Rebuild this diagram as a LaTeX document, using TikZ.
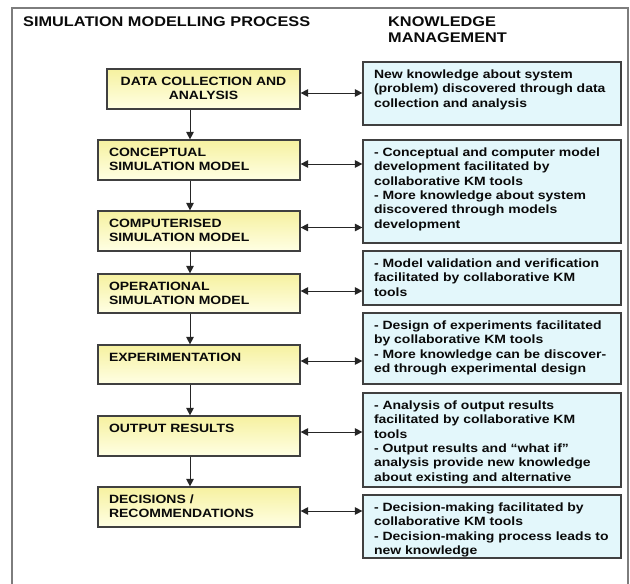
\documentclass[tikz,border=0pt]{standalone}
\usepackage{fontspec}
\setmainfont{Liberation Sans}[FakeStretch=1.165]
\usetikzlibrary{arrows.meta}
\definecolor{ytop}{RGB}{246,241,160}
\definecolor{ybot}{RGB}{255,255,228}
\definecolor{kfill}{RGB}{227,247,251}
\definecolor{bord}{RGB}{64,64,64}
\definecolor{framec}{RGB}{125,125,125}
\definecolor{ink}{RGB}{10,10,10}
\newcommand\lbox[3]{\parbox[c][#1][t]{#2}{\leftskip=11pt\rightskip=0pt plus 1fil\vspace*{6.5pt}\strut #3}}
\newcommand\cbox[3]{\parbox[c][#1][t]{#2}{\centering\vspace*{6.5pt}\strut #3}}
\tikzset{
  boxbase/.style={draw=bord, line width=1.2pt, inner sep=0pt, text=ink,
    font=\fontsize{12}{14.3}\selectfont\bfseries},
  ybox/.style={boxbase, top color=ytop, bottom color=ybot},
  kbox/.style={boxbase, fill=kfill},
  ttl/.style={inner sep=0pt, text=ink, font=\fontsize{14}{16}\selectfont\bfseries},
  conn/.style={draw=black!85, line width=1pt},
  varr/.style={conn, -{Triangle[length=7.5pt,width=7.5pt]}},
  harr/.style={conn, {Triangle[length=7.5pt,width=7.5pt]}-{Triangle[length=7.5pt,width=7.5pt]}},
  framel/.style={draw=framec, line width=1.6pt}
}
\begin{document}
\begin{tikzpicture}[x=1pt,y=-1pt]
\useasboundingbox (0,0) rectangle (630,584);
\draw[framel] (12,586) -- (12,8) -- (628,8) -- (628,586);

\node[ttl, anchor=north west] (tsim) at (23,17) {SIMULATION MODELLING PROCESS};
\node[ttl, anchor=north west, align=left] (tkm) at (388,17) {KNOWLEDGE\\MANAGEMENT};

% yellow process boxes
\node[ybox] (y1) at (203.5,89) {\cbox{40pt}{193pt}{DATA COLLECTION AND\\ANALYSIS}};
\node[ybox] (y2) at (199,160) {\lbox{40pt}{202pt}{CONCEPTUAL\\SIMULATION MODEL}};
\node[ybox] (y3) at (199,231) {\lbox{40pt}{202pt}{COMPUTERISED\\SIMULATION MODEL}};
\node[ybox] (y4) at (199,293.5) {\lbox{39pt}{202pt}{OPERATIONAL\\SIMULATION MODEL}};
\node[ybox] (y5) at (199,364.5) {\lbox{39pt}{202pt}{EXPERIMENTATION}};
\node[ybox] (y6) at (199,436) {\lbox{40pt}{202pt}{OUTPUT RESULTS}};
\node[ybox] (y7) at (199,507) {\lbox{40pt}{202pt}{DECISIONS /\\RECOMMENDATIONS}};

% knowledge boxes
\node[kbox] (k1) at (492,93.5) {\lbox{63pt}{258pt}{New knowledge about system\\(problem) discovered through data\\collection and analysis}};
\node[kbox] (k2) at (492,191.5) {\lbox{103pt}{258pt}{- Conceptual and computer model\\development facilitated by\\collaborative KM tools\\- More knowledge about system\\discovered through models\\development}};
\node[kbox] (k3) at (492,278) {\lbox{54pt}{258pt}{- Model validation and verification\\facilitated by collaborative KM\\tools}};
\node[kbox] (k4) at (492,348.5) {\lbox{71pt}{258pt}{- Design of experiments facilitated\\by collaborative KM tools\\- More knowledge can be discover-\\ed through experimental design}};
\node[kbox] (k5) at (492,440) {\lbox{94pt}{258pt}{- Analysis of output results\\facilitated by collaborative KM\\tools\\- Output results and “what if”\\analysis provide new knowledge\\about existing and alternative}};
\node[kbox] (k6) at (492,526.5) {\lbox{63pt}{258pt}{- Decision-making facilitated by\\collaborative KM tools\\- Decision-making process leads to\\new knowledge}};

% vertical flow
\coordinate (ax) at (190,0);
\draw[varr] (y1.south -| ax) -- (y2.north -| ax);
\draw[varr] (y2.south -| ax) -- (y3.north -| ax);
\draw[varr] (y3.south -| ax) -- (y4.north -| ax);
\draw[varr] (y4.south -| ax) -- (y5.north -| ax);
\draw[varr] (y5.south -| ax) -- (y6.north -| ax);
\draw[varr] (y6.south -| ax) -- (y7.north -| ax);

% horizontal links
\draw[harr] ([yshift=-4pt]y1.east) -- ([yshift=-4pt]y1.east -| k1.west);
\draw[harr] ([yshift=-4pt]y2.east) -- ([yshift=-4pt]y2.east -| k2.west);
\draw[harr] ([yshift=3.5pt]y3.east) -- ([yshift=3.5pt]y3.east -| k3.west);
\draw[harr] ([yshift=2.5pt]y4.east) -- ([yshift=2.5pt]y4.east -| k4.west);
\draw[harr] ([yshift=3.5pt]y5.east) -- ([yshift=3.5pt]y5.east -| k5.west);
\draw[harr] ([yshift=4pt]y6.east) -- ([yshift=4pt]y6.east -| k5.west);
\draw[harr] ([yshift=-4pt]y7.east) -- ([yshift=-4pt]y7.east -| k6.west);
\end{tikzpicture}
\end{document}
